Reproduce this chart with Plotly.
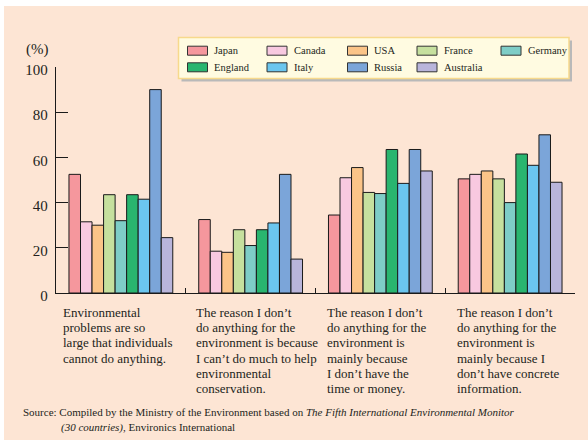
import plotly.graph_objects as go

# ---------------- data ----------------
countries = ["Japan", "Canada", "USA", "France", "Germany",
             "England", "Italy", "Russia", "Australia"]
colors = ["#F5979D", "#F8C9E0", "#FBC488", "#C6E09E", "#7ECDC7",
          "#29B56F", "#6BC6EF", "#7BA5D9", "#B9B5DB"]

cat_lines = [
    ["Environmental", "problems are so", "large that individuals", "cannot do anything."],
    ["The reason I don’t", "do anything for the", "environment is because",
     "I can’t do much to help", "environmental", "conservation."],
    ["The reason I don’t", "do anything for the", "environment is",
     "mainly because", "I don’t have the", "time or money."],
    ["The reason I don’t", "do anything for the", "environment is",
     "mainly because I", "don’t have concrete", "information."],
]
categories = [" ".join(c) for c in cat_lines]

# values per country, one per category
values = {
    "Japan":     [52.5, 32.5, 34.5, 50.5],
    "Canada":    [31.5, 18.5, 51.0, 52.5],
    "USA":       [30.0, 18.0, 55.5, 54.0],
    "France":    [43.5, 28.0, 44.5, 50.5],
    "Germany":   [32.0, 21.0, 44.0, 40.0],
    "England":   [43.5, 28.0, 63.5, 61.5],
    "Italy":     [41.5, 31.0, 48.5, 56.5],
    "Russia":    [90.0, 52.5, 63.5, 70.0],
    "Australia": [24.5, 15.0, 54.0, 49.0],
}
y_ticks = [0, 20, 40, 60, 80, 100]

# ---------------- layout geometry ----------------
WIDTH, HEIGHT = 588, 444
L, R, T, B = 56, 13, 67, 151
PW = WIDTH - L - R
PH = HEIGHT - T - B
FONT = "Liberation Serif, Times New Roman, serif"
INK = "#231F20"


def fx(px):
    return (px - L) / PW


def fy(py):
    return (HEIGHT - B - py) / PH


fig = go.Figure()
for name, col in zip(countries, colors):
    fig.add_trace(go.Bar(
        name=name, x=categories, y=values[name],
        marker=dict(color=col, line=dict(color="#1a1a1a", width=1)),
        showlegend=False,
    ))

shapes = []
annotations = []

# peach page background
shapes.append(dict(type="rect", xref="paper", yref="paper", layer="below",
                   x0=fx(4), x1=fx(590), y0=fy(6), y1=fy(440),
                   fillcolor="#FDE5D4", line=dict(width=0)))

# legend box (shadow + box)
lg_x0, lg_x1, lg_y0, lg_y1 = 178.5, 569, 37.5, 78.5
shapes.append(dict(type="rect", xref="paper", yref="paper", layer="above",
                   x0=fx(lg_x0 + 3), x1=fx(lg_x1 + 3), y0=fy(lg_y0 + 3), y1=fy(lg_y1 + 3),
                   fillcolor="#B9B9B9", line=dict(width=0)))
shapes.append(dict(type="rect", xref="paper", yref="paper", layer="above",
                   x0=fx(lg_x0), x1=fx(lg_x1), y0=fy(lg_y0), y1=fy(lg_y1),
                   fillcolor="#FFFBE1", line=dict(color="#F7D98C", width=1.5)))
col_x = [187.5, 267, 347.5, 417, 501]
row_y = [50.7, 67.3]
for i, (name, col) in enumerate(zip(countries, colors)):
    r, c = divmod(i, 5)
    sx, sy = col_x[c], row_y[r]
    shapes.append(dict(type="rect", xref="paper", yref="paper", layer="above",
                       x0=fx(sx), x1=fx(sx + 20), y0=fy(sy - 4.5), y1=fy(sy + 4.5),
                       fillcolor=col, line=dict(color="#333333", width=1)))
    annotations.append(dict(text=name, xref="paper", yref="paper",
                            x=fx(sx + 24.5), y=fy(sy), xanchor="left", yanchor="middle",
                            showarrow=False, font=dict(family=FONT, size=10.5, color=INK)))

# "(%)" unit label
annotations.append(dict(text="(%)", xref="paper", yref="paper", x=fx(37), y=fy(49),
                        xanchor="center", yanchor="middle", showarrow=False,
                        font=dict(family=FONT, size=15, color=INK)))

# category labels, left aligned, line by line
x_off = [5, 8, 9, 10]
line_y0, line_step = 312.3, 15.3
for i, lines in enumerate(cat_lines):
    for j, ln in enumerate(lines):
        annotations.append(dict(text=ln, xref="x", yref="paper", x=i - 0.5, xshift=x_off[i],
                                y=fy(line_y0 + j * line_step), xanchor="left", yanchor="middle",
                                showarrow=False, font=dict(family=FONT, size=13, color=INK)))

# source note
annotations.append(dict(
    text="Source: Compiled by the Ministry of the Environment based on "
         "<i>The Fifth International Environmental Monitor</i>",
    xref="paper", yref="paper", x=fx(20.5), y=fy(412.3), xanchor="left", yanchor="middle",
    showarrow=False, font=dict(family=FONT, size=11, color=INK)))
annotations.append(dict(
    text="<i>(30 countries)</i>, Environics International",
    xref="paper", yref="paper", x=fx(58.5), y=fy(427.3), xanchor="left", yanchor="middle",
    showarrow=False, font=dict(family=FONT, size=11, color=INK)))

fig.update_layout(
    width=WIDTH, height=HEIGHT,
    margin=dict(l=L, r=R, t=T, b=B, pad=0),
    paper_bgcolor="white", plot_bgcolor="rgba(0,0,0,0)",
    barmode="group", bargap=0.2, bargroupgap=0,
    shapes=shapes, annotations=annotations,
    showlegend=False,
    font=dict(family=FONT, color=INK),
)
fig.update_xaxes(
    type="category", range=[-0.5, 3.5], showticklabels=False,
    showline=True, linecolor="#1a1a1a", linewidth=1.3,
    ticks="inside", tickson="boundaries", ticklen=5, tickcolor="#1a1a1a", tickwidth=1.3,
    showgrid=False, zeroline=False,
)
fig.update_yaxes(
    range=[0, 100], tickvals=y_ticks,
    showline=True, linecolor="#1a1a1a", linewidth=1.3,
    ticks="inside", ticklen=12, tickcolor="#1a1a1a", tickwidth=1.3,
    ticklabelstandoff=4, ticklabelshift=3,
    tickfont=dict(family=FONT, size=15, color=INK),
    showgrid=False, zeroline=False,
)

fig.write_html("out.html")
